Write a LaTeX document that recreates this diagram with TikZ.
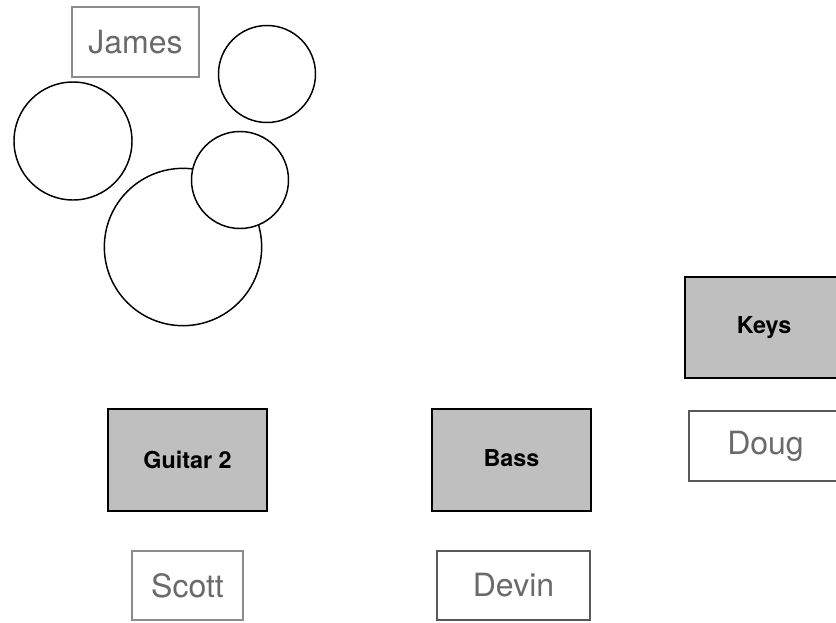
\documentclass[tikz,border=0pt]{standalone}
\usepackage{fontspec}
\setmainfont{TeX Gyre Heros}
\usepackage{xcolor}
\usepackage{tikz}
\usetikzlibrary{positioning}
\definecolor{ampfill}{HTML}{BFBFBF}
\definecolor{namelight}{HTML}{8A8C90}
\definecolor{namedark}{HTML}{585858}
\definecolor{nametext}{HTML}{6A6A6A}
\tikzset{
    amp/.style={draw=black, line width=1.5pt, fill=ampfill, inner sep=0pt,
        minimum width=119pt, minimum height=76.5pt,
        font=\fontsize{17.5}{20}\selectfont\bfseries},
    player/.style={draw=namelight, line width=1.5pt, fill=white, inner sep=0pt,
        minimum height=52pt, text=nametext, font=\fontsize{24}{28}\selectfont},
    drum/.style={circle, draw=black, line width=1.1pt, fill=white, inner sep=0pt},
}

\begin{document}
\begin{tikzpicture}[x=0.75pt, y=-0.75pt]
            \useasboundingbox (0,0) rectangle (836,622);
            \clip (0,0) rectangle (836,622);
            % Drum kit
            \node[player, minimum width=95pt] (james) at (135.5,42) {James};
            \node[drum, minimum size=88.5pt] (floortom) at (73,141) {};
            \node[drum, minimum size=72.75pt] (cymbal) at (267,74) {};
            \node[drum, minimum size=118pt] (kick) at (183,247) {};
            \node[drum, minimum size=72.75pt] (snare) at (240,180) {};
            % Amps
            \node[amp] (guitar) at (187.5,460) {Guitar 2};
            \node[amp] (bass) at (511.5,460) {\raisebox{3pt}{Bass}};
            \node[amp, minimum height=76pt] (keys) at (764,327.5) {\raisebox{4pt}{Keys}};
            % Players
            \node[player, minimum width=83.5pt] (scott) at (187.5,585.5) {Scott};
            \node[player, draw=namedark, minimum width=115pt] (devin) at (513.5,585.5) {Devin};
            \node[player, draw=namedark, minimum width=115pt] (doug) at (765.5,446) {Doug};
\end{tikzpicture}
\end{document}
